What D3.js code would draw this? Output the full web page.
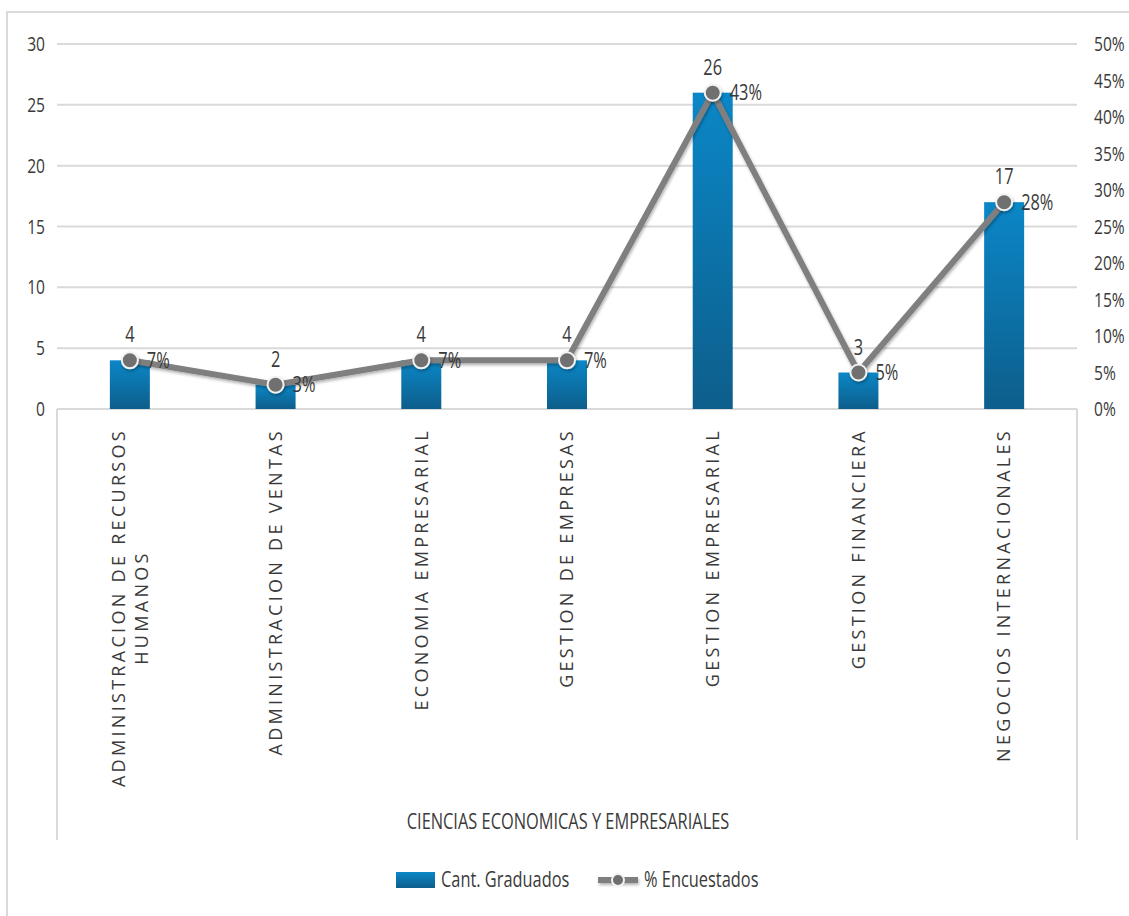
<!DOCTYPE html>
<html>
    <head>
        <meta charset='utf-8'>
        <title>Graduados</title>
        <script src='https://cdn.jsdelivr.net/npm/d3@7/dist/d3.min.js'></script>
        <style>
            body { margin:0; background:#fff; }
            text { fill:#3a3a3a; }
            .num { font-family:'Open Sans','DejaVu Sans',sans-serif; }
            .cat { font-family:'Open Sans','DejaVu Sans',sans-serif; }
        </style>
    </head>
    <body>
        <div id='chart'></div>
        <script>
            var categories = [
                ["ADMINISTRACION DE RECURSOS", "HUMANOS"],
                ["ADMINISTRACION DE VENTAS"],
                ["ECONOMIA EMPRESARIAL"],
                ["GESTION DE EMPRESAS"],
                ["GESTION EMPRESARIAL"],
                ["GESTION FINANCIERA"],
                ["NEGOCIOS INTERNACIONALES"]
            ];
            var graduados = [4, 2, 4, 4, 26, 3, 17];
            var encuestados = [0.0667, 0.0333, 0.0667, 0.0667, 0.4333, 0.05, 0.2833];
            var leftTicks = [0, 5, 10, 15, 20, 25, 30];
            var rightTicks = [0, 0.05, 0.10, 0.15, 0.20, 0.25, 0.30, 0.35, 0.40, 0.45, 0.50];
            var groupLabel = "CIENCIAS ECONOMICAS Y EMPRESARIALES";
            var legendNames = ["Cant. Graduados", "% Encuestados"];

            var w = 1129, h = 916;
            var pLeft = 57, pRight = 1077, pTop = 44, pBottom = 409;
            var sx = 0.78;   // condensed look of the narrow font

            function squeeze(xv, yv) {
                return "translate(" + xv + "," + yv + ") scale(" + sx + ",1)";
            }

            var svg = d3.select("#chart").append("svg")
                        .attr("width", w).attr("height", h);

            var defs = svg.append("defs");
            var grad = defs.append("linearGradient").attr("id", "barGrad")
                           .attr("x1", 0).attr("y1", 0).attr("x2", 0).attr("y2", 1);
            grad.append("stop").attr("offset", "0%").attr("stop-color", "#0b87c7");
            grad.append("stop").attr("offset", "100%").attr("stop-color", "#0d5e8b");
            var shadow = defs.append("filter").attr("id", "shadow")
                             .attr("filterUnits", "userSpaceOnUse")
                             .attr("x", 0).attr("y", 0).attr("width", w).attr("height", h);
            shadow.append("feDropShadow").attr("dx", 1).attr("dy", 2).attr("stdDeviation", 1.5)
                  .attr("flood-color", "#000").attr("flood-opacity", 0.3);

            // outer border
            svg.append("rect").attr("x", 7).attr("y", 12).attr("width", w).attr("height", h)
               .attr("fill", "none").attr("stroke", "#d9d9d9").attr("stroke-width", 2);

            var x = d3.scaleBand().domain(d3.range(categories.length))
                      .range([pLeft, pRight]);
            var y = d3.scaleLinear().domain([0, 30]).range([pBottom, pTop]);
            var y2 = d3.scaleLinear().domain([0, 0.5]).range([pBottom, pTop]);
            var cx = function(i) { return x(i) + x.bandwidth() / 2; };

            // gridlines
            svg.selectAll("line.grid").data(leftTicks).enter().append("line")
               .attr("x1", pLeft).attr("x2", pRight)
               .attr("y1", function(d) { return y(d); })
               .attr("y2", function(d) { return y(d); })
               .attr("stroke", "#d9d9d9").attr("stroke-width", 2);

            // left axis labels
            svg.selectAll("text.yl").data(leftTicks).enter().append("text")
               .attr("class", "num").attr("font-size", "20px")
               .attr("transform", function(d) { return squeeze(45, y(d)); })
               .attr("dy", "0.35em").attr("text-anchor", "end")
               .text(function(d) { return d; });

            // right axis labels
            svg.selectAll("text.yr").data(rightTicks).enter().append("text")
               .attr("class", "num").attr("font-size", "20px")
               .attr("transform", function(d) { return squeeze(1094, y2(d)); })
               .attr("dy", "0.35em")
               .text(function(d) { return d3.format(".0%")(d); });

            // multi-level category axis frame
            svg.append("line").attr("x1", pLeft).attr("x2", pLeft).attr("y1", pBottom).attr("y2", 840)
               .attr("stroke", "#d9d9d9").attr("stroke-width", 2);
            svg.append("line").attr("x1", pRight).attr("x2", pRight).attr("y1", pBottom).attr("y2", 840)
               .attr("stroke", "#d9d9d9").attr("stroke-width", 2);

            // bars
            var barW = 40;
            svg.selectAll("rect.bar").data(graduados).enter().append("rect")
               .attr("x", function(d, i) { return cx(i) - barW / 2; })
               .attr("y", function(d) { return y(d); })
               .attr("width", barW)
               .attr("height", function(d) { return pBottom - y(d); })
               .attr("fill", "url(#barGrad)");

            // bar value labels
            svg.selectAll("text.bv").data(graduados).enter().append("text")
               .attr("class", "num").attr("font-size", "21px").attr("text-anchor", "middle")
               .attr("transform", function(d, i) { return squeeze(cx(i), y(d) - 18); })
               .text(function(d) { return d; });

            // line
            var line = d3.line()
                         .x(function(d, i) { return cx(i); })
                         .y(function(d) { return y2(d); });
            svg.append("path").datum(encuestados).attr("d", line)
               .attr("fill", "none").attr("stroke", "#7f7f7f").attr("stroke-width", 6)
               .attr("stroke-linejoin", "round").attr("filter", "url(#shadow)");
            svg.selectAll("circle.pt").data(encuestados).enter().append("circle")
               .attr("cx", function(d, i) { return cx(i); })
               .attr("cy", function(d) { return y2(d); })
               .attr("r", 8).attr("fill", "#6f6f6f")
               .attr("stroke", "#f2f2f2").attr("stroke-width", 2)
               .attr("filter", "url(#shadow)");

            svg.selectAll("text.pv").data(encuestados).enter().append("text")
               .attr("class", "num").attr("font-size", "21px")
               .attr("transform", function(d, i) { return squeeze(cx(i) + 17, y2(d)); })
               .attr("dy", "0.35em")
               .text(function(d) { return d3.format(".0%")(d); });

            // category labels, rotated
            categories.forEach(function(lines, i) {
                var lh = 23;
                var off = -(lines.length - 1) * lh / 2;
                var g = svg.append("g")
                           .attr("transform", "translate(" + cx(i) + ",428) rotate(-90)");
                var first = g.append("text").attr("class", "cat")
                             .attr("font-size", "18px").attr("letter-spacing", "3.3px")
                             .attr("text-anchor", "end").attr("x", 0).attr("y", off).attr("dy", "0.35em")
                             .text(lines[0]);
                var len = first.node().getComputedTextLength();
                for (var k = 1; k < lines.length; k++) {
                    g.append("text").attr("class", "cat")
                     .attr("font-size", "18px").attr("letter-spacing", "3.3px")
                     .attr("text-anchor", "middle").attr("x", -len / 2)
                     .attr("y", off + k * lh).attr("dy", "0.35em")
                     .text(lines[k]);
                }
            });

            svg.append("text").attr("class", "num").attr("font-size", "21px")
               .attr("text-anchor", "middle")
               .attr("transform", squeeze(568, 829))
               .text(groupLabel);

            // legend
            var lg = svg.append("g");
            lg.append("rect").attr("x", 396).attr("y", 872).attr("width", 39).attr("height", 16)
              .attr("fill", "url(#barGrad)");
            lg.append("text").attr("class", "num").attr("font-size", "21px")
              .attr("transform", squeeze(441, 880)).attr("dy", "0.35em").text(legendNames[0]);
            lg.append("path").attr("d", "M598,880H638")
              .attr("stroke", "#7f7f7f").attr("stroke-width", 6).attr("filter", "url(#shadow)");
            lg.append("circle").attr("cx", 618).attr("cy", 880).attr("r", 6)
              .attr("fill", "#6f6f6f").attr("stroke", "#f2f2f2").attr("stroke-width", 2);
            lg.append("text").attr("class", "num").attr("font-size", "21px")
              .attr("transform", squeeze(644, 880)).attr("dy", "0.35em").text(legendNames[1]);
        </script>
    </body>
</html>
